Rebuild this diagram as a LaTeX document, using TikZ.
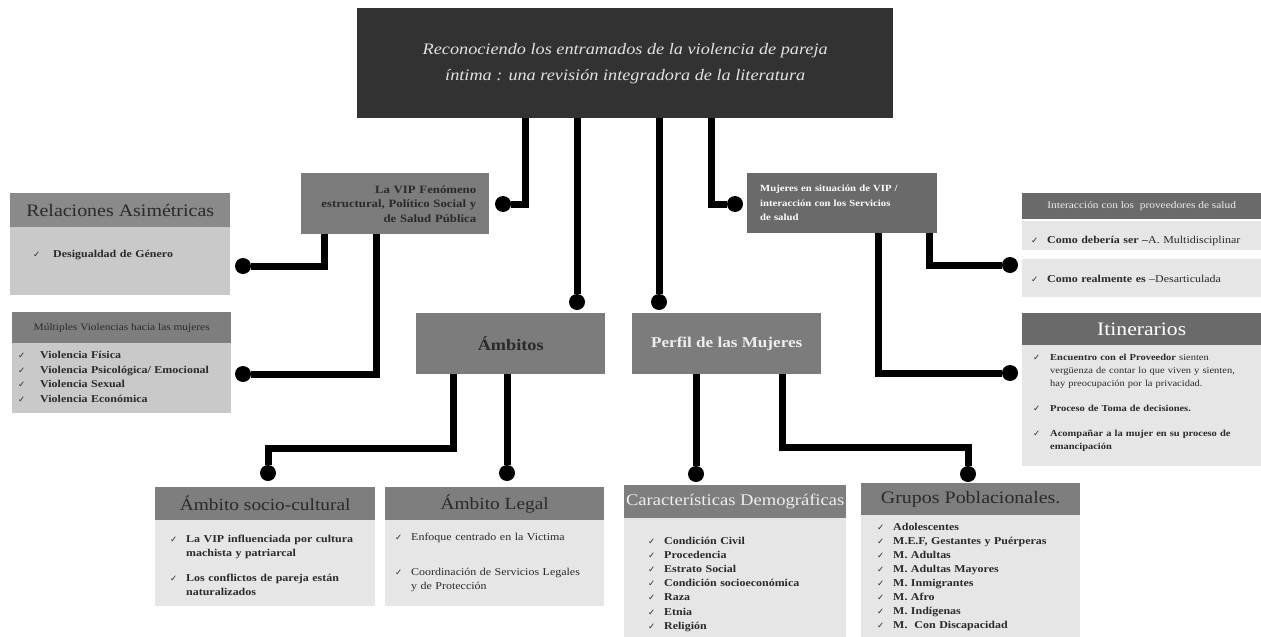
\documentclass[tikz,border=0pt]{standalone}
\usepackage{fontspec}
\setmainfont{Liberation Serif}[FakeStretch=1.14]
\newfontfamily\dejavu{DejaVu Sans}
\definecolor{cTitle}{HTML}{323232}
\definecolor{cTitleTxt}{HTML}{E2E2E2}
\definecolor{cMid}{HTML}{7C7C7C}
\definecolor{cDark}{HTML}{6A6A6A}
\definecolor{cHeadA}{HTML}{8A8A8A}
\definecolor{cBodyA}{HTML}{C9C9C9}
\definecolor{cHeadB}{HTML}{7E7E7E}
\definecolor{cBodyB}{HTML}{E6E6E6}
\definecolor{cTxt}{HTML}{2A2A2A}
\definecolor{cLight}{HTML}{EEEEEE}
\newcommand{\chk}{{\dejavu\fontsize{8.5}{8.5}\selectfont\color{cTxt}✓}}
\newcommand{\itm}[2][16pt]{\hangindent=#1\hangafter=1\noindent\makebox[#1][l]{\chk}#2\par}
\begin{document}
\begin{tikzpicture}[x=1pt,y=-1pt,
  box/.style={rectangle, inner sep=0pt, anchor=north west, draw=none},
  conn/.style={line width=7pt, draw=black},
  dot/.style={circle, fill=black, inner sep=0pt, minimum size=16pt},
  lst/.style={anchor=base west, inner sep=0pt, align=left, text=cTxt},
  hdr/.style={box, text=cTxt},
]
\useasboundingbox (0,0) rectangle (1261,637);

% title
\node[box, fill=cTitle, minimum width=536pt, minimum height=110pt, text=cTitleTxt,
      font=\fontsize{16}{26}\selectfont\itshape, align=center] (title) at (357,8)
  {Reconociendo los entramados de la violencia de pareja\\íntima : una revisión integradora de la literatura};

% second level
\node[box, fill=cMid, minimum width=188pt, minimum height=61pt, text width=162pt, inner xsep=13pt,
      align=right, font=\fontsize{11.2}{14.5}\selectfont\bfseries, text=cTxt] (vip) at (301,173)
  {La VIP Fenómeno\\estructural, Político Social y\\de Salud Pública};
\node[box, fill=cDark, minimum width=190pt, minimum height=60pt, text width=164pt, inner xsep=13pt,
      align=left, font=\fontsize{9.4}{14.5}\selectfont\bfseries, text=white] (muj) at (747,173)
  {Mujeres en situación de VIP /\\interacción con los Servicios\\de salud};
\node[box, fill=cMid, minimum width=189pt, minimum height=61pt, font=\fontsize{16}{18}\selectfont\bfseries, text=cTxt] (amb) at (416,313) {Ámbitos};
\node[box, fill=cMid, minimum width=189pt, minimum height=61pt, font=\fontsize{15}{17}\selectfont\bfseries, text=cLight] (perf) at (632,313) {Perfil de las Mujeres};

% Relaciones asimetricas
\node[hdr, fill=cHeadA, minimum width=220pt, minimum height=34pt, font=\fontsize{17.5}{20}\selectfont] (relh) at (10,193) {Relaciones Asimétricas};
\node[box, fill=cBodyA, minimum width=220pt, minimum height=68pt] (relb) at (10,227) {};
\node[lst, text width=195pt, font=\fontsize{10.5}{14}\selectfont\bfseries] (rell) at (33,257.5)
  {\itm[20pt]{Desigualdad de Género}};

% Multiples violencias
\node[hdr, fill=cHeadB, minimum width=219pt, minimum height=31pt, font=\fontsize{10}{12}\selectfont] (mulh) at (12,312) {Múltiples Violencias hacia las mujeres};
\node[box, fill=cBodyA, minimum width=219pt, minimum height=70pt] (mulb) at (12,343) {};
\node[lst, text width=210pt, font=\fontsize{10.5}{14.5}\selectfont\bfseries] (mull) at (18,358.5)
  {\itm[22pt]{Violencia Física}\itm[22pt]{Violencia Psicológica/ Emocional}\itm[22pt]{Violencia Sexual}\itm[22pt]{Violencia Económica}};

% Interaccion
\node[box, fill=cDark, minimum width=239pt, minimum height=26pt, text=cLight, font=\fontsize{10}{12}\selectfont] (inth) at (1022,193) {Interacción con los\ \ proveedores de salud};
\node[box, fill=cBodyB, minimum width=239pt, minimum height=29pt] (int1) at (1022,221) {};
\node[box, fill=cBodyB, minimum width=239pt, minimum height=38pt] (int2) at (1022,259) {};
\node[lst, text width=228pt, font=\fontsize{10.5}{14}\selectfont] (int1t) at (1031,243.5)
  {\itm{{\bfseries Como debería ser –}A. Multidisciplinar}};
\node[lst, text width=228pt, font=\fontsize{10.5}{14}\selectfont] (int2t) at (1031,282.5)
  {\itm{{\bfseries Como realmente es} –Desarticulada}};

% Itinerarios
\node[box, fill=cDark, minimum width=239pt, minimum height=32pt, text=white, font=\fontsize{19}{21}\selectfont] (itih) at (1022,313) {Itinerarios};
\node[box, fill=cBodyB, minimum width=239pt, minimum height=121pt] (itib) at (1022,345) {};
\node[lst, text width=226pt, font=\fontsize{9.2}{13}\selectfont] (itil) at (1033,360.5)
  {\itm[17pt]{{\bfseries Encuentro con el Proveedor} sienten\newline vergüenza de contar lo que viven y sienten,\newline hay preocupación por la privacidad.}\vspace{12pt}%
   \itm[17pt]{\bfseries Proceso de Toma de decisiones.}\vspace{12pt}%
   \itm[17pt]{\bfseries Acompañar a la mujer en su proceso de\newline emancipación}};

% bottom: socio-cultural
\node[hdr, fill=cHeadB, minimum width=220pt, minimum height=33pt, font=\fontsize{17}{19}\selectfont] (soch) at (155,487) {Ámbito socio-cultural};
\node[box, fill=cBodyB, minimum width=220pt, minimum height=86pt] (socb) at (155,520) {};
\node[lst, text width=200pt, font=\fontsize{10.5}{14}\selectfont\bfseries] (socl) at (170,542.5)
  {\itm{La VIP influenciada por cultura\newline machista y patriarcal}\vspace{11pt}%
   \itm{Los conflictos de pareja están\newline naturalizados}};

% bottom: legal
\node[hdr, fill=cHeadB, minimum width=219pt, minimum height=33pt, font=\fontsize{17}{19}\selectfont] (legh) at (385,487) {Ámbito Legal};
\node[box, fill=cBodyB, minimum width=219pt, minimum height=86pt] (legb) at (385,520) {};
\node[lst, text width=205pt, font=\fontsize{10.5}{14}\selectfont] (legl) at (395,540.5)
  {\itm{Enfoque centrado en la Victima}\vspace{21pt}%
   \itm{Coordinación de Servicios Legales\newline y de Protección}};

% bottom: caracteristicas
\node[hdr, fill=cHeadB, minimum width=222pt, minimum height=33pt, text=cLight, font=\fontsize{16.3}{19}\selectfont] (carh) at (624,485) {Características Demográficas};
\node[box, fill=cBodyB, minimum width=222pt, minimum height=119pt] (carb) at (624,518) {};
\node[lst, text width=195pt, font=\fontsize{10.5}{14.2}\selectfont\bfseries] (carl) at (648,544)
  {\itm{Condición Civil}\itm{Procedencia}\itm{Estrato Social}\itm{Condición socioeconómica}\itm{Raza}\itm{Etnia}\itm{Religión}};

% bottom: grupos
\node[hdr, fill=cHeadB, minimum width=219pt, minimum height=32pt, font=\fontsize{17.5}{19}\selectfont] (gruh) at (861,483) {Grupos Poblacionales.};
\node[box, fill=cBodyB, minimum width=219pt, minimum height=122pt] (grub) at (861,515) {};
\node[lst, text width=200pt, font=\fontsize{10.5}{14.14}\selectfont\bfseries] (grul) at (877,530)
  {\itm{Adolescentes}\itm{M.E.F, Gestantes y Puérperas}\itm{M. Adultas}\itm{M. Adultas Mayores}\itm{M. Inmigrantes}\itm{M. Afro}\itm{M. Indígenas}\itm{M.\ \ Con Discapacidad}};

% dots
\node[dot] (d1) at (503,204) {};
\node[dot] (d2) at (735,204) {};
\node[dot] (d3) at (577,302) {};
\node[dot] (d4) at (659,302) {};
\node[dot] (d5) at (243,266) {};
\node[dot] (d6) at (243,374) {};
\node[dot] (d7) at (268,473) {};
\node[dot] (d8) at (507,473) {};
\node[dot] (d9) at (696,474) {};
\node[dot] (d10) at (968,474) {};
\node[dot] (d11) at (1010,265) {};
\node[dot] (d12) at (1010,373) {};

% connectors
\draw[conn] (title.south -| 525,0) |- (d1);
\draw[conn] (title.south -| 711,0) |- (d2);
\draw[conn] (title.south -| d3) -- (d3);
\draw[conn] (title.south -| d4) -- (d4);
\draw[conn] (vip.south -| 324,0) |- (d5);
\draw[conn] (vip.south -| 376,0) |- (d6);
\draw[conn] (amb.south -| 453,0) -- ++(0,74) -| (d7);
\draw[conn] (amb.south -| d8) -- (d8);
\draw[conn] (perf.south -| d9) -- (d9);
\draw[conn] (perf.south -| 782,0) -- ++(0,73) -| (d10);
\draw[conn] (muj.south -| 929,0) |- (d11);
\draw[conn] (muj.south -| 878,0) |- (d12);
\end{tikzpicture}
\end{document}
